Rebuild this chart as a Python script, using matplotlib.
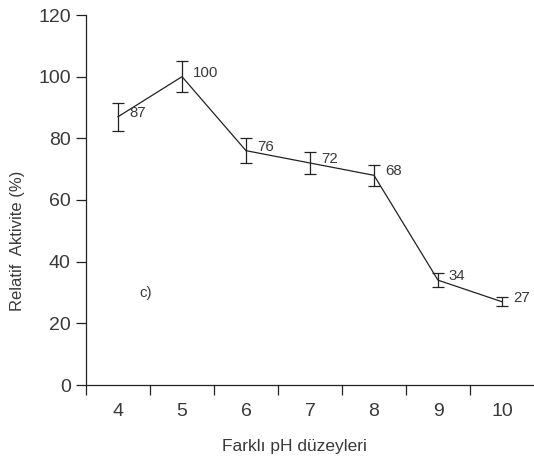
import matplotlib
matplotlib.use("Agg")
import matplotlib.pyplot as plt
import numpy as np

ph_levels = ["4", "5", "6", "7", "8", "9", "10"]
activity = [87, 100, 76, 72, 68, 34, 27]
errors = [4.5, 5.0, 4.0, 3.5, 3.5, 2.3, 1.4]
labels = ["87", "100", "76", "72", "68", "34", "27"]
y_ticks = [0, 20, 40, 60, 80, 100, 120]

plt.rcParams['font.family'] = ['Liberation Sans', 'DejaVu Sans']
tc = '#3a3a3a'

fig = plt.figure(figsize=(5.34, 4.63), dpi=100)
ax = fig.add_axes([86/534, 78/463, 448/534, 370/463])
x = np.arange(len(ph_levels))
ax.errorbar(x, activity, yerr=errors, color='#222222', lw=0.9, capsize=4,
            capthick=0.9, elinewidth=0.9)
for xi, yi, lab in zip(x, activity, labels):
    ax.text(xi + 0.17, yi + 1.3, lab, fontsize=10.8, color=tc, va='center', ha='left')
ax.text(0.44, 30, "c)", fontsize=10.8, color=tc, ha='center', va='center')

ax.set_xlim(-0.5, 6.5)
ax.set_ylim(0, 120)
ax.set_yticks(y_ticks)
ax.set_xticks(x)
ax.set_xticklabels(ph_levels)
ax.set_xticks(np.arange(-0.5, 6.0, 1.0), minor=True)
ax.tick_params(axis='x', which='major', length=0, pad=13, labelsize=14, labelcolor=tc)
ax.tick_params(axis='x', which='minor', length=7, width=0.9, color='#222222')
ax.tick_params(axis='y', length=7, width=0.9, labelsize=14, labelcolor=tc, color='#222222', pad=4)
for s in ['top', 'right']:
    ax.spines[s].set_visible(False)
for s in ['left', 'bottom']:
    ax.spines[s].set_linewidth(0.9)
    ax.spines[s].set_color('#222222')

fig.text(294/534, 1 - 446/463, "Farklı pH düzeyleri", fontsize=12.5, color=tc, ha='center', va='center')
fig.text(18/534, 1 - 241/463, "Relatif  Aktivite (%)", fontsize=12, color=tc, ha='center', va='center', rotation=90)

fig.savefig("out.png", dpi=100)
